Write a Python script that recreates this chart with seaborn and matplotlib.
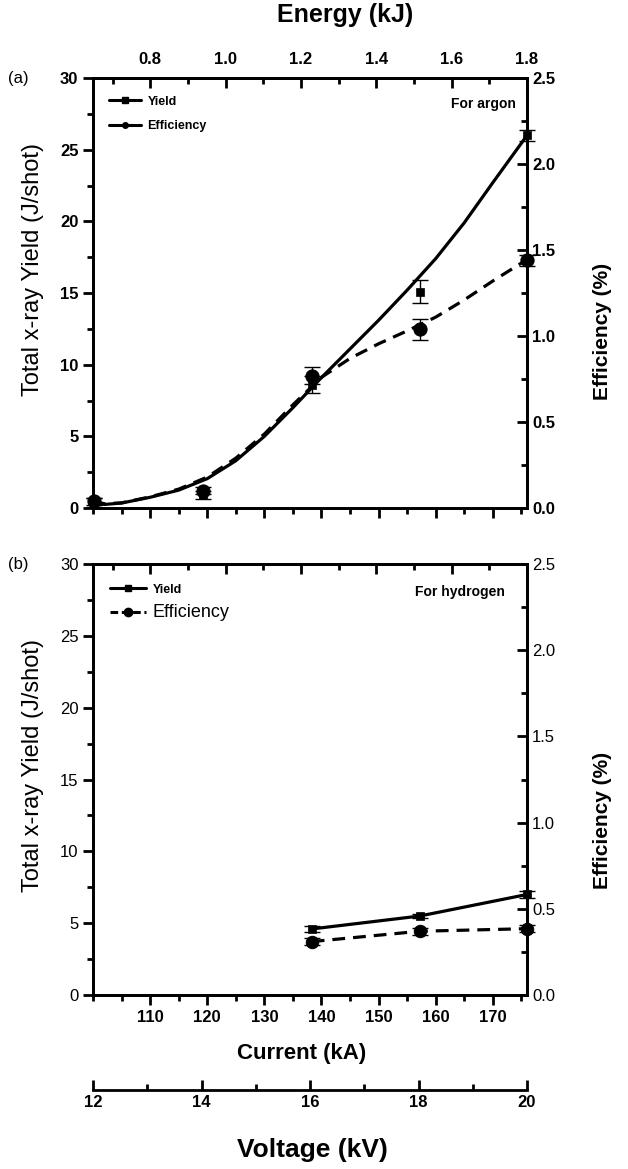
import numpy as np
import pandas as pd
import seaborn as sns
import matplotlib.pyplot as plt
from matplotlib.lines import Line2D
from matplotlib.ticker import MultipleLocator, FixedLocator

# -------------------------------
# Data
# -------------------------------
# argon, measured points
current_ar = [100.2, 119.3, 138.3, 157.2, 176.0]
yield_ar = [0.4, 0.9, 8.6, 15.1, 26.0]
yield_ar_err = [0.3, 0.3, 0.6, 0.8, 0.4]
eff_ar = [0.04, 0.10, 0.77, 1.04, 1.44]
eff_ar_err = [0.02, 0.02, 0.05, 0.06, 0.03]

# argon, fitted curves
fit_current = [100, 102, 105, 110, 115, 120, 125, 130, 135, 140,
               145, 150, 155, 160, 165, 170, 176]
fit_yield_ar = [0.4, 0.25, 0.35, 0.75, 1.25, 2.05, 3.3, 5.0, 7.0, 9.1,
                11.1, 13.1, 15.2, 17.4, 19.9, 22.7, 26.0]
fit_eff_ar = [0.04, 0.025, 0.03, 0.065, 0.11, 0.18, 0.29, 0.43, 0.6, 0.76,
              0.87, 0.955, 1.03, 1.11, 1.21, 1.32, 1.445]

# hydrogen, measured points
current_h = [138.3, 157.2, 176.0]
yield_h = [4.6, 5.5, 7.0]
yield_h_err = [0.2, 0.15, 0.25]
eff_h = [0.31, 0.37, 0.385]
eff_h_err = [0.02, 0.02, 0.02]

# axis ranges / ticks
current_lim = (100, 176)
current_ticks = [110, 120, 130, 140, 150, 160, 170]
energy_lim = (0.648, 1.8)
voltage_lim = (12, 20)

sns.set_style("ticks")
plt.rcParams['font.family'] = ['Liberation Sans', 'DejaVu Sans']
plt.rcParams['axes.linewidth'] = 2
plt.rcParams['axes.edgecolor'] = 'black'
plt.rcParams['xtick.color'] = 'black'
plt.rcParams['ytick.color'] = 'black'
plt.rcParams['text.color'] = 'black'


def to_energy(c):
    return energy_lim[0] + (np.asarray(c) - current_lim[0]) * (energy_lim[1] - energy_lim[0]) / (current_lim[1] - current_lim[0])


def to_current(e):
    return current_lim[0] + (np.asarray(e) - energy_lim[0]) * (current_lim[1] - current_lim[0]) / (energy_lim[1] - energy_lim[0])


def style_panel(ax, ax2, left_weight, right_weight, show_x):
    ax.set_xlim(*current_lim)
    ax.set_ylim(0, 30)
    ax2.set_ylim(0, 2.5)
    ax.xaxis.set_major_locator(FixedLocator(current_ticks))
    ax.xaxis.set_minor_locator(MultipleLocator(5))
    ax.yaxis.set_major_locator(MultipleLocator(5))
    ax.yaxis.set_minor_locator(MultipleLocator(2.5))
    ax2.yaxis.set_major_locator(MultipleLocator(0.5))
    ax2.yaxis.set_minor_locator(MultipleLocator(0.25))
    ax.tick_params(axis="both", which="major", direction="out", length=7, width=2,
                   labelsize=12, top=False, right=False)
    ax.tick_params(axis="both", which="minor", direction="out", length=4, width=2,
                   top=False, right=False)
    ax2.tick_params(axis="y", which="major", direction="in", length=7, width=2, labelsize=12)
    ax2.tick_params(axis="y", which="minor", direction="in", length=4, width=2)
    for t in ax.get_yticklabels():
        t.set_fontweight(left_weight)
    for t in ax2.get_yticklabels():
        t.set_fontweight(right_weight)
    if show_x:
        for t in ax.get_xticklabels():
            t.set_fontweight("bold")
    else:
        ax.tick_params(axis="x", labelbottom=False)
    ax.set_xlabel("")
    ax.set_ylabel("")
    ax2.set_ylabel("")
    ax.grid(False)
    ax2.grid(False)

    top = ax.secondary_xaxis("top", functions=(to_energy, to_current))
    top.xaxis.set_major_locator(MultipleLocator(0.2))
    top.xaxis.set_minor_locator(MultipleLocator(0.1))
    top.tick_params(which="major", direction="in", length=7, width=2, labelsize=12, pad=8)
    top.tick_params(which="minor", direction="in", length=4, width=2)
    top.spines["top"].set_linewidth(2)
    return top


fig = plt.figure(figsize=(6.28, 11.69), dpi=100)
ax_a = fig.add_axes([0.1481, 0.5654, 0.6911, 0.3678])
ax_b = fig.add_axes([0.1481, 0.1488, 0.6911, 0.3687])
ax_a2 = ax_a.twinx()
ax_b2 = ax_b.twinx()

# -------------------------------
# (a) argon
# -------------------------------
sns.lineplot(x=fit_current, y=fit_yield_ar, ax=ax_a, color="black", lw=2.3)
sns.lineplot(x=fit_current, y=fit_eff_ar, ax=ax_a2, color="black", lw=2.3,
             linestyle=(0, (4, 2.5)))
ax_a.errorbar(current_ar, yield_ar, yerr=yield_ar_err, fmt="none", ecolor="black",
              elinewidth=1, capsize=6, capthick=1, clip_on=False)
ax_a2.errorbar(current_ar, eff_ar, yerr=eff_ar_err, fmt="none", ecolor="black",
               elinewidth=1, capsize=6, capthick=1, clip_on=False)
sns.scatterplot(x=current_ar, y=yield_ar, ax=ax_a, marker="s", s=40, color="black",
                edgecolor="black", clip_on=False, zorder=5)
sns.scatterplot(x=current_ar, y=eff_ar, ax=ax_a2, marker="o", s=90, color="black",
                edgecolor="black", clip_on=False, zorder=5)

top_a = style_panel(ax_a, ax_a2, "bold", "bold", False)
for t in top_a.get_xticklabels():
    t.set_fontweight("bold")

handles_a = [Line2D([], [], color="black", lw=2.2, marker="s", ms=4),
             Line2D([], [], color="black", lw=2.2, marker="o", ms=4)]
leg_a = ax_a.legend(handles_a, ["Yield", "Efficiency"], loc="upper left",
                    bbox_to_anchor=(0.01, 0.985), frameon=False, handlelength=2.6,
                    handletextpad=0.5, labelspacing=1.0,
                    prop={"weight": "bold", "size": 9})
ax_a.text(0.975, 0.94, "For argon", transform=ax_a.transAxes, ha="right", va="center",
          fontsize=10, fontweight="bold")

# -------------------------------
# (b) hydrogen
# -------------------------------
sns.lineplot(x=current_h, y=yield_h, ax=ax_b, color="black", lw=2.3)
sns.lineplot(x=current_h, y=eff_h, ax=ax_b2, color="black", lw=2.3,
             linestyle=(0, (4, 2.5)))
ax_b.errorbar(current_h, yield_h, yerr=yield_h_err, fmt="none", ecolor="black",
              elinewidth=1, capsize=6, capthick=1, clip_on=False)
ax_b2.errorbar(current_h, eff_h, yerr=eff_h_err, fmt="none", ecolor="black",
               elinewidth=1, capsize=6, capthick=1, clip_on=False)
sns.scatterplot(x=current_h, y=yield_h, ax=ax_b, marker="s", s=40, color="black",
                edgecolor="black", clip_on=False, zorder=5)
sns.scatterplot(x=current_h, y=eff_h, ax=ax_b2, marker="o", s=80, color="black",
                edgecolor="black", clip_on=False, zorder=5)

top_b = style_panel(ax_b, ax_b2, "normal", "normal", True)
top_b.tick_params(labeltop=False)

handles_b = [Line2D([], [], color="black", lw=2.2, marker="s", ms=4),
             Line2D([], [], color="black", lw=2.2, marker="o", ms=6,
                    linestyle=(0, (2.5, 1.2)))]
leg_b = ax_b.legend(handles_b, ["Yield", "Efficiency"], loc="upper left",
                    bbox_to_anchor=(0.01, 0.985), frameon=False, handlelength=2.6,
                    handletextpad=0.5, labelspacing=0.6)
leg_b.get_texts()[0].set_fontweight("bold")
leg_b.get_texts()[0].set_fontsize(9)
leg_b.get_texts()[1].set_fontsize(13)
ax_b.text(0.95, 0.935, "For hydrogen", transform=ax_b.transAxes, ha="right", va="center",
          fontsize=10, fontweight="bold")

# -------------------------------
# Voltage axis (bare spine)
# -------------------------------
ax_v = fig.add_axes([0.1481, 1 - 1090 / 1169, 0.6911, 0.0001])
ax_v.set_xlim(*voltage_lim)
ax_v.set_yticks([])
for side in ["left", "right", "top"]:
    ax_v.spines[side].set_visible(False)
ax_v.spines["bottom"].set_linewidth(2)
ax_v.xaxis.set_major_locator(MultipleLocator(2))
ax_v.xaxis.set_minor_locator(MultipleLocator(1))
ax_v.tick_params(axis="x", which="major", direction="in", length=7, width=2, labelsize=12)
ax_v.tick_params(axis="x", which="minor", direction="in", length=4, width=2)
for t in ax_v.get_xticklabels():
    t.set_fontweight("bold")
ax_v.patch.set_alpha(0)

# -------------------------------
# Labels
# -------------------------------
fig.text(345 / 628, 1 - 15 / 1169, "Energy (kJ)", ha="center", va="center",
         fontsize=18, fontweight="bold")
fig.text(302 / 628, 1 - 1053 / 1169, "Current (kA)", ha="center", va="center",
         fontsize=16, fontweight="bold")
fig.text(312 / 628, 1 - 1150 / 1169, "Voltage (kV)", ha="center", va="center",
         fontsize=19, fontweight="bold")
for left_mid, right_mid in [(270, 331), (765, 820)]:
    fig.text(33 / 628, 1 - left_mid / 1169, "Total x-ray Yield (J/shot)", rotation=90,
             ha="center", va="center", fontsize=17)
    fig.text(603 / 628, 1 - right_mid / 1169, "Efficiency (%)", rotation=90,
             ha="center", va="center", fontsize=15, fontweight="bold")
fig.text(18 / 628, 1 - 78 / 1169, "(a)", ha="center", va="center", fontsize=12)
fig.text(18 / 628, 1 - 565 / 1169, "(b)", ha="center", va="center", fontsize=12)

fig.savefig("out.png", dpi=100)
